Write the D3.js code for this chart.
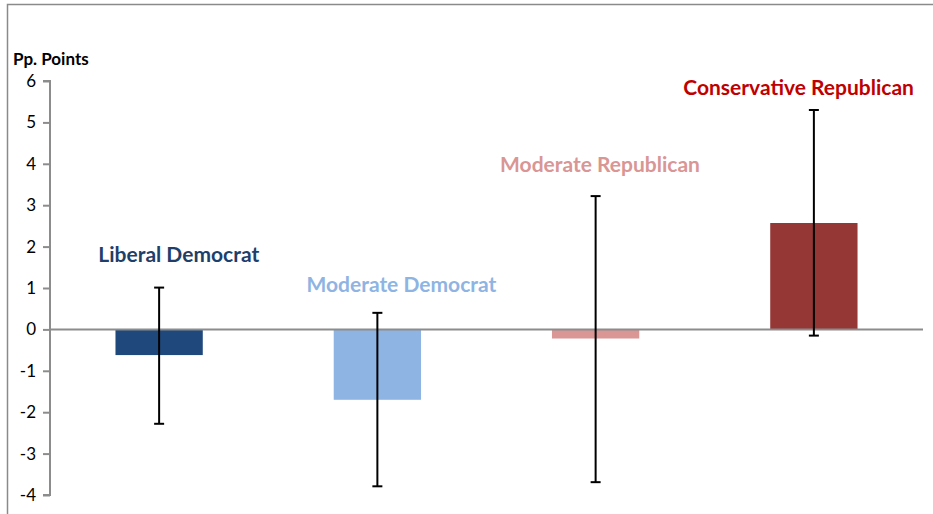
<!DOCTYPE html>
<html><head><meta charset="utf-8">
<script src="https://cdn.jsdelivr.net/npm/d3@7"></script>
<style>body{margin:0;background:#fff;} svg{display:block;}</style>
</head><body>
<script>
const categories = ["Liberal Democrat", "Moderate Democrat", "Moderate Republican", "Conservative Republican"];
const values = [-0.62, -1.70, -0.22, 2.57];
const errLow = [-2.28, -3.79, -3.69, -0.15];
const errHigh = [1.01, 0.40, 3.22, 5.30];
const yTicks = [6, 5, 4, 3, 2, 1, 0, -1, -2, -3, -4];
const labelY = [1.63, 0.90, 3.80, 5.65];      // label baseline, in data units
const labelDx = [0.09, 0.11, 0.02, -0.07];    // label offset, in band steps
const barColors = ["#1F497D", "#8EB4E3", "#D99694", "#953735"];
const labelColors = ["#1F3F6A", "#8EB4E3", "#D99694", "#C00000"];

const W = 933, H = 514;
const svg = d3.select("body").append("svg").attr("width", W).attr("height", H);

// outer border (partially visible)
svg.append("path").attr("d", `M7.5,514 V4.5 H933`).attr("fill", "none").attr("stroke", "#8a8a8a").attr("stroke-width", 1.5);

const x0 = 50, x1 = 923, yTop = 81, yBot = 495;
const x = d3.scaleBand().domain(categories).range([x0, x1]).paddingInner(0.6).paddingOuter(0.3);
const y = d3.scaleLinear().domain([-4, 6]).range([yBot, yTop]);

// bars
svg.selectAll("rect.bar").data(categories).join("rect")
  .attr("x", d => x(d))
  .attr("width", x.bandwidth())
  .attr("y", (d, i) => y(Math.max(0, values[i])))
  .attr("height", (d, i) => Math.abs(y(values[i]) - y(0)))
  .attr("fill", (d, i) => barColors[i]);

// zero line
svg.append("line").attr("x1", x0).attr("x2", x1).attr("y1", y(0)).attr("y2", y(0))
  .attr("stroke", "#8c8c8c").attr("stroke-width", 2);

// y axis
const yAxis = d3.axisLeft(y).tickValues(yTicks).tickSize(7).tickPadding(7).tickFormat(d => String(d));
const ga = svg.append("g").attr("transform", `translate(${x0},0)`).call(yAxis);
ga.select(".domain").attr("stroke", "#8c8c8c").attr("stroke-width", 2).attr("d", `M-7,${yTop}H0V${yBot}H-7`);
ga.selectAll(".tick line").attr("stroke", "#8c8c8c").attr("stroke-width", 2);
ga.selectAll(".tick text").attr("font-family", "Lato, 'Open Sans', sans-serif").attr("font-size", 17).attr("fill", "#000");

// error bars
const cap = 5;
const eg = svg.selectAll("g.err").data(categories).join("g").attr("class", "err")
  .attr("stroke", "#000").attr("stroke-width", 2);
eg.append("line").attr("x1", d => x(d) + x.bandwidth() / 2).attr("x2", d => x(d) + x.bandwidth() / 2)
  .attr("y1", (d, i) => y(errHigh[i])).attr("y2", (d, i) => y(errLow[i]));
eg.append("line").attr("x1", d => x(d) + x.bandwidth() / 2 - cap).attr("x2", d => x(d) + x.bandwidth() / 2 + cap)
  .attr("y1", (d, i) => y(errHigh[i])).attr("y2", (d, i) => y(errHigh[i]));
eg.append("line").attr("x1", d => x(d) + x.bandwidth() / 2 - cap).attr("x2", d => x(d) + x.bandwidth() / 2 + cap)
  .attr("y1", (d, i) => y(errLow[i])).attr("y2", (d, i) => y(errLow[i]));

// category labels
svg.selectAll("text.lab").data(categories).join("text").attr("class", "lab")
  .attr("x", (d, i) => x(d) + x.bandwidth() / 2 + labelDx[i] * x.step())
  .attr("y", (d, i) => y(labelY[i]))
  .attr("text-anchor", "middle")
  .attr("font-family", "Lato, 'Open Sans', sans-serif").attr("font-weight", 700).attr("font-size", 21)
  .attr("fill", (d, i) => labelColors[i])
  .text(d => d);

// axis title
svg.append("text").attr("x", 13).attr("y", 65).attr("font-family", "Lato, 'Open Sans', sans-serif")
  .attr("font-weight", 700).attr("font-size", 17).attr("fill", "#000").text("Pp. Points");
</script>
</body></html>
